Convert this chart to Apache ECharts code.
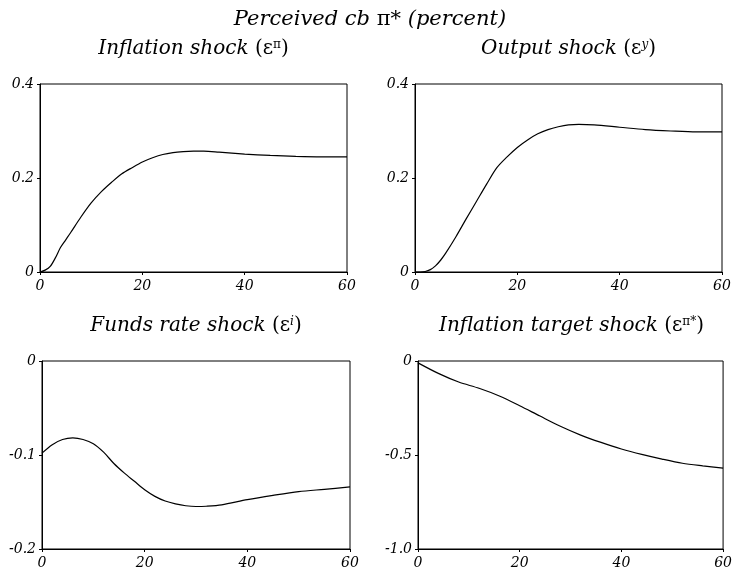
<!DOCTYPE html>
<html>
<head>
<meta charset="utf-8">
<script src="https://cdn.jsdelivr.net/npm/echarts@6/dist/echarts.min.js"></script>
<style>
  html, body { margin: 0; padding: 0; background: #fff; }
  #chart { width: 735px; height: 570px; }
</style>
</head>
<body>
<div id="chart"></div>
<script>
// 数据 - 每个面板的横坐标和数值
var xInfl = [0, 1, 2, 3, 4, 5, 6, 8, 10, 12, 14, 16, 18, 20, 22, 24, 26, 28, 30, 32, 35, 40, 45, 50, 55, 60];
var yInfl = [0, 0.004, 0.012, 0.03, 0.052, 0.068, 0.084, 0.117, 0.147, 0.171, 0.191, 0.209, 0.222, 0.234, 0.243, 0.25, 0.254, 0.256, 0.257, 0.257, 0.255, 0.251, 0.248, 0.246, 0.245, 0.245];

var xOutput = [0, 1, 2, 3, 4, 5, 6, 8, 10, 12, 14, 16, 18, 20, 22, 24, 26, 28, 30, 32, 35, 40, 45, 50, 55, 60];
var yOutput = [0, 0, 0.001, 0.005, 0.013, 0.025, 0.04, 0.075, 0.113, 0.15, 0.187, 0.222, 0.245, 0.265, 0.281, 0.294, 0.303, 0.309, 0.313, 0.314, 0.313, 0.308, 0.303, 0.3, 0.298, 0.298];

var xFunds = [0, 2, 4, 6, 8, 10, 12, 14, 16, 18, 20, 22, 24, 26, 28, 30, 32, 35, 40, 45, 50, 55, 60];
var yFunds = [-0.098, -0.089, -0.0835, -0.0818, -0.0835, -0.088, -0.097, -0.109, -0.119, -0.128, -0.137, -0.144, -0.149, -0.152, -0.154, -0.1548, -0.1545, -0.153, -0.1475, -0.143, -0.139, -0.1365, -0.134];

var xTarget = [0, 4, 8, 12, 16, 20, 24, 28, 32, 36, 40, 44, 48, 52, 56, 60];
var yTarget = [-0.01, -0.066, -0.112, -0.145, -0.186, -0.238, -0.293, -0.347, -0.394, -0.433, -0.468, -0.497, -0.522, -0.544, -0.558, -0.57];

var yRanges = [[0, 0.4, 0.2], [0, 0.4, 0.2], [-0.2, 0, 0.1], [-1, 0, 0.5]];

var panelTitles = [
    ['Inflation shock ', 'π'],
    ['Output shock ', 'y'],
    ['Funds rate shock ', 'i'],
    ['Inflation target shock ', 'π*']
];

var chart = echarts.init(document.getElementById('chart'));

var FONT = 'DejaVu Serif';
// 网格位置
var grids = [
    {left: 40, top: 84, width: 307, height: 188},
    {left: 415, top: 84, width: 307, height: 188},
    {left: 42, top: 361, width: 308, height: 188},
    {left: 418, top: 361, width: 307, height: 188}
];

function pairs(xs, ys) {
    return xs.map(function (x, i) { return [x, ys[i]]; });
}
var seriesData = [pairs(xInfl, yInfl), pairs(xOutput, yOutput), pairs(xFunds, yFunds), pairs(xTarget, yTarget)];

function richFor(size) {
    return {
        it: {fontFamily: FONT, fontStyle: 'italic', fontWeight: 'normal', fontSize: size, color: '#000'},
        up: {fontFamily: FONT, fontStyle: 'normal', fontWeight: 'normal', fontSize: size, color: '#000'},
        sup: {fontFamily: FONT, fontStyle: 'normal', fontWeight: 'normal', fontSize: 12, color: '#000', verticalAlign: 'top', padding: [0, 0, 8, 0]},
        supi: {fontFamily: FONT, fontStyle: 'italic', fontWeight: 'normal', fontSize: 12, color: '#000', verticalAlign: 'top', padding: [0, 0, 8, 0]}
    };
}

var titles = [{
    text: '{it|Perceived cb }{up|π*}{it| (percent)}',
    left: 370, top: 9, textAlign: 'center', padding: 0,
    textStyle: {fontWeight: 'normal', rich: richFor(21)}
}];
panelTitles.forEach(function (t, i) {
    var g = grids[i];
    var sup = (t[1] === 'y' || t[1] === 'i') ? '{supi|' + t[1] + '}' : '{sup|' + t[1] + '}';
    titles.push({
        text: '{it|' + t[0] + '}{up|(ε}' + sup + '{up|)}',
        left: g.left + g.width / 2, top: g.top - 45, textAlign: 'center', padding: 0,
        textStyle: {fontWeight: 'normal', rich: richFor(20)}
    });
});

var option = {
    animation: false,
    title: titles,
    grid: grids.map(function (g) {
        return Object.assign({show: true, borderColor: '#000', borderWidth: 1, backgroundColor: '#fff'}, g);
    }),
    xAxis: grids.map(function (g, i) {
        return {
            type: 'value', gridIndex: i, min: 0, max: 60, interval: 20,
            axisLine: {onZero: false, lineStyle: {color: '#000', width: 1}},
            axisTick: {show: true, length: 3, lineStyle: {color: '#000'}},
            splitLine: {show: false},
            axisLabel: {margin: 7, color: '#000', fontFamily: FONT, fontStyle: 'italic', fontSize: 14}
        };
    }),
    yAxis: yRanges.map(function (r, i) {
        return {
            type: 'value', gridIndex: i, min: r[0], max: r[1], interval: r[2],
            axisLine: {show: true, onZero: false, lineStyle: {color: '#000', width: 1}},
            axisTick: {show: true, length: 3, lineStyle: {color: '#000'}},
            splitLine: {show: false},
            axisLabel: {
                margin: 6, color: '#000', fontFamily: FONT, fontStyle: 'italic', fontSize: 14,
                formatter: function (v) { return Math.abs(v) < 1e-9 ? '0' : v.toFixed(1); }
            }
        };
    }),
    series: seriesData.map(function (d, i) {
        return {
            type: 'line', xAxisIndex: i, yAxisIndex: i, data: d,
            showSymbol: false, smooth: 0.3,
            lineStyle: {color: '#000', width: 1.2}
        };
    })
};
chart.setOption(option);
</script>
</body>
</html>
